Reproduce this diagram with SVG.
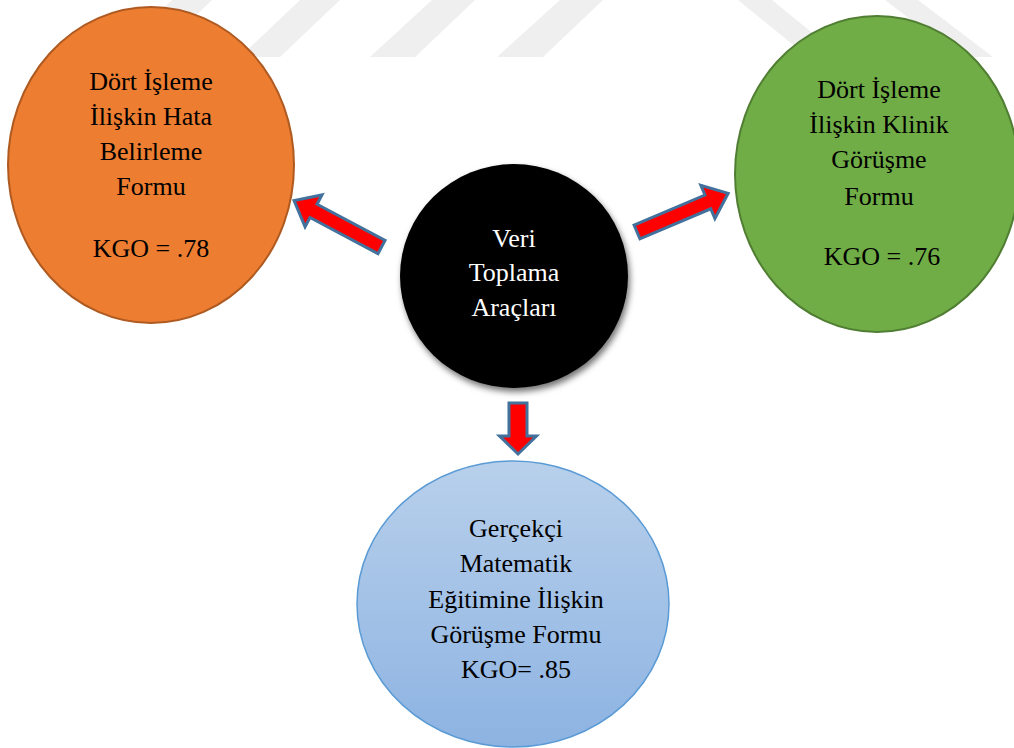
<svg xmlns="http://www.w3.org/2000/svg" width="1014" height="748" viewBox="0 0 1014 748">
  <defs>
    <style>
      .t { font-family: "Liberation Serif", "Times New Roman", serif; font-size: 26px; text-anchor: middle; fill: #000; }
      .tw { fill: #fff; }
      .arrow { fill: #ff0000; stroke: #41719c; stroke-width: 3; stroke-linejoin: miter; }
      .wm { fill: #efefef; }
    </style>
    <linearGradient id="blueGrad" x1="0" y1="0" x2="0" y2="1">
      <stop offset="0" stop-color="#b8d0eb"/>
      <stop offset="1" stop-color="#8db3e2"/>
    </linearGradient>
    <filter id="shadow" x="-20%" y="-20%" width="140%" height="140%">
      <feDropShadow dx="2" dy="4" stdDeviation="3" flood-color="#000" flood-opacity="0.55"/>
    </filter>
    <path id="arrowShape" d="M0,-7.5 L77,-7.5 L77,-18 L99,0 L77,18 L77,7.5 L0,7.5 Z"/>
  </defs>

  <rect x="0" y="0" width="1014" height="748" fill="#fff"/>

  <g id="watermark">
    <polygon class="wm" points="112,57 152,57 212,0 172,0"/>
    <polygon class="wm" points="240,57 280,57 340,0 300,0"/>
    <polygon class="wm" points="370,57 415,57 475,0 432,0"/>
    <polygon class="wm" points="497,57 543,57 603,0 560,0"/>
    <polygon class="wm" points="738,0 772,0 842,57 808,57"/>
    <polygon class="wm" points="885,0 918,0 993,57 960,57"/>
  </g>

  <g id="node-hata">
    <ellipse cx="151" cy="165" rx="143" ry="158" fill="#ed7d31" stroke="#ae5a21" stroke-width="2"/>
    <text class="t" x="151" y="90">Dört İşleme</text>
    <text class="t" x="151" y="125">İlişkin Hata</text>
    <text class="t" x="151" y="160">Belirleme</text>
    <text class="t" x="151" y="195">Formu</text>
    <text class="t" x="151" y="257">KGO = .78</text>
  </g>

  <g id="node-klinik">
    <ellipse cx="877" cy="174" rx="142" ry="158" fill="#70ad47" stroke="#507e32" stroke-width="2"/>
    <text class="t" x="879" y="98">Dört İşleme</text>
    <text class="t" x="879" y="133">İlişkin Klinik</text>
    <text class="t" x="879" y="168">Görüşme</text>
    <text class="t" x="879" y="205">Formu</text>
    <text class="t" x="882" y="265">KGO = .76</text>
  </g>

  <g id="node-veri">
    <ellipse cx="514" cy="276" rx="114" ry="112" fill="#000" filter="url(#shadow)"/>
    <text class="t tw" x="514" y="247">Veri</text>
    <text class="t tw" x="514" y="281">Toplama</text>
    <text class="t tw" x="514" y="316">Araçları</text>
  </g>

  <g id="node-gercekci">
    <ellipse cx="513" cy="604" rx="156" ry="143" fill="url(#blueGrad)" stroke="#5b9bd5" stroke-width="1.5"/>
    <text class="t" x="516" y="537">Gerçekçi</text>
    <text class="t" x="516" y="572">Matematik</text>
    <text class="t" x="516" y="608">Eğitimine İlişkin</text>
    <text class="t" x="516" y="643">Görüşme Formu</text>
    <text class="t" x="516" y="678">KGO= .85</text>
  </g>

  <g id="connectors">
    <use href="#arrowShape" class="arrow" transform="translate(381.5,247) rotate(-152)"/>
    <use href="#arrowShape" class="arrow" transform="translate(637,232) rotate(-23)"/>
    <path class="arrow" d="M0,-9 L33,-9 L33,-18.5 L51,0 L33,18.5 L33,9 L0,9 Z" transform="translate(518,403) rotate(90)"/>
  </g>
</svg>
